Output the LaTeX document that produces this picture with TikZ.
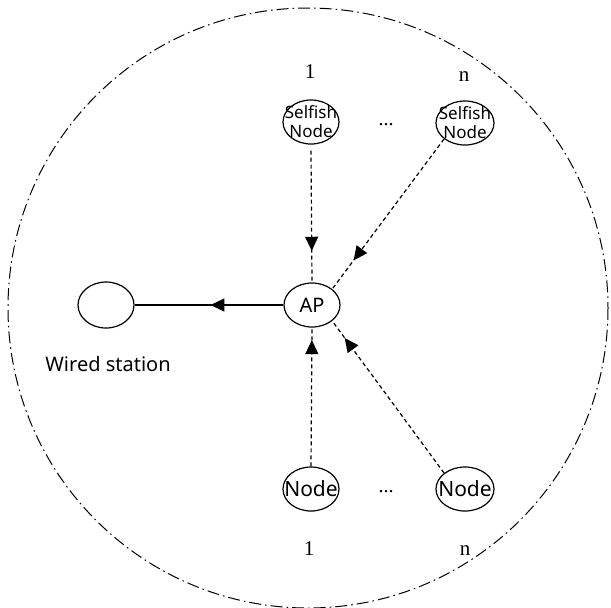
\documentclass[tikz,border=0pt]{standalone}
\usepackage{fontspec}
\usetikzlibrary{positioning, arrows.meta, shapes.geometric, decorations.markings}
\newfontfamily\nodefont{Noto Sans}
\newfontfamily\numfont{Liberation Serif}

\begin{document}
\begin{tikzpicture}[x=0.5pt, y=-0.5pt, line width=0.6pt,
    station/.style={draw, ellipse, minimum width=28pt, minimum height=22pt, inner sep=0pt},
    intext/.style={font=\nodefont\fontsize{8.5}{9.5}\selectfont, align=center, inner sep=0pt},
    numlabel/.style={font=\numfont\fontsize{10.5}{12}\selectfont, anchor=base, inner sep=0pt},
    flow/.style={dash pattern=on 2pt off 1.5pt, postaction={decorate},
      decoration={markings, mark=at position #1 with {\arrow{Triangle[length=7pt, width=6.5pt]}}}},
    uplink/.style={postaction={decorate},
      decoration={markings, mark=at position #1 with {\arrow{Triangle[length=7pt, width=6.5pt]}}}}]
    \useasboundingbox (0,0) rectangle (611,607);
    % Coverage area of the AP
    \draw[line width=0.5pt, dash pattern=on 6pt off 2pt on 0.8pt off 2pt] (308,308) circle[radius=300];
    % Stations
    \node[station, label={[intext, font=\nodefont\fontsize{10}{12}\selectfont]center:AP}] (ap) at (312,305) {};
    \node[station, minimum height=23pt] (ws) at (106,305) {};
    \node[font=\nodefont\fontsize{10}{12}\selectfont] (wslabel) at (108,364) {Wired station};
    \node[station, label={[intext]center:Selfish\\Node}] (s1) at (311,122) {};
    \node[station, minimum width=29pt, label={[intext]center:Selfish\\Node}] (sn) at (465,123) {};
    \node[station, label={[intext, font=\nodefont\fontsize{10.5}{12}\selectfont]center:Node}] (n1) at (311,489) {};
    \node[station, minimum width=29pt, label={[intext, font=\nodefont\fontsize{10.5}{12}\selectfont]center:Node}] (nn) at (465,489) {};
    % Indices and ellipses
    \node[numlabel] (s1idx) at (310,78) {1};
    \node[numlabel] (snidx) at (464,81) {n};
    \node[numlabel] (n1idx) at (309,555) {1};
    \node[numlabel] (nnidx) at (465,555) {n};
    \foreach \y/\name in {125/sdots, 492/ndots}
      \node[font=\numfont\fontsize{10}{10}\selectfont] (\name) at (386,\y) {...};
    % Links towards the AP
    \draw[flow=0.76] ([yshift=-3pt]s1.south) -- (ap.north);
    \draw[flow=0.81] (sn.south west) -- (ap.north east);
    \draw[flow=0.91] (n1.north) -- (ap.south);
    \draw[flow=0.89] (nn.north west) -- (ap.south east);
    \draw[uplink=0.49] (ap.west) -- (ws.east);
\end{tikzpicture}
\end{document}
